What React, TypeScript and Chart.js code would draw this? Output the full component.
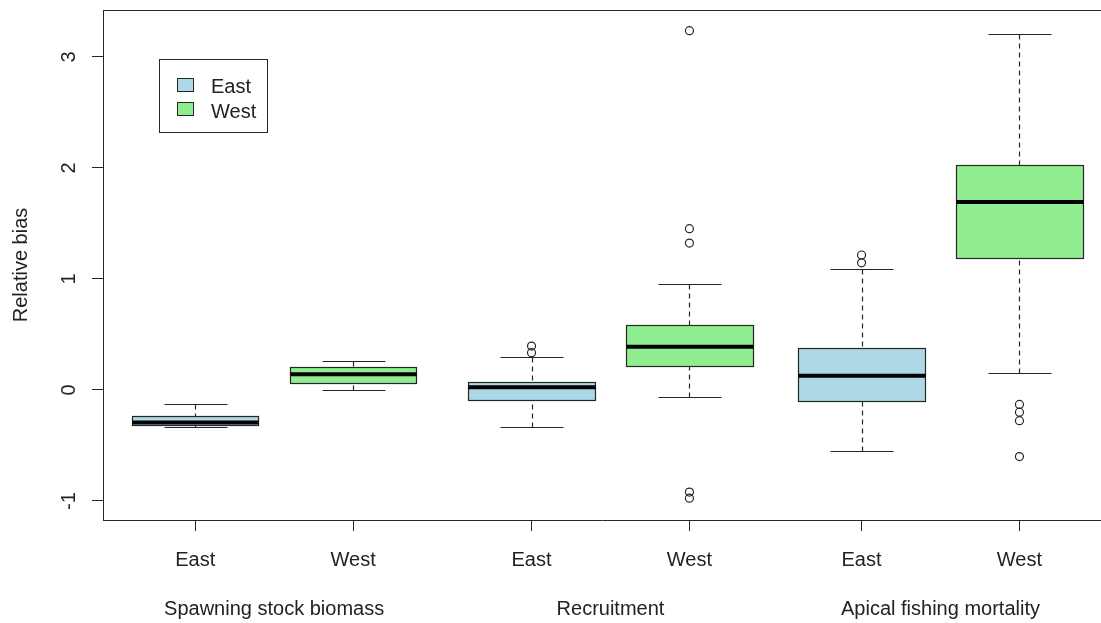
import React, { useEffect, useRef } from "react";
import { Chart, registerables } from "chart.js";

Chart.register(...registerables);

// ---- data ----
const positions = [1, 2, 3.13, 4.13, 5.22, 6.22];
const tickLabels = ["East", "West", "East", "West", "East", "West"];
const regions = ["East", "West", "East", "West", "East", "West"];
const groupLabels = ["Spawning stock biomass", "Recruitment", "Apical fishing mortality"];
const whiskerLow = [-0.333, -0.003, -0.336, -0.06, -0.55, 0.15];
const q1 = [-0.318, 0.06, -0.093, 0.219, -0.103, 1.185];
const median = [-0.293, 0.141, 0.024, 0.39, 0.129, 1.694];
const q3 = [-0.232, 0.204, 0.075, 0.586, 0.378, 2.028];
const whiskerHigh = [-0.126, 0.264, 0.3, 0.955, 1.094, 3.206];
const outliers: number[][] = [
  [],
  [],
  [0.396, 0.336],
  [3.237, 1.453, 1.324, -0.92, -0.975],
  [1.216, 1.146],
  [-0.13, -0.2, -0.276, -0.6],
];
const yTicks = [-1, 0, 1, 2, 3];
const yTitle = "Relative bias";
const legendLabels = ["East", "West"];

const colorOf: Record<string, string> = { East: "#ADD8E6", West: "#90EE90" };
const boxWidth = 0.8;
const FONT = '20px "Liberation Sans", Arial, Helvetica, sans-serif';
const TEXT = "#222";
const LINE = "#262626";

const boxPlugin = {
  id: "rbox",
  beforeDatasetsDraw(chart: any) {
    const { ctx, scales } = chart;
    const x = scales.x;
    const y = scales.y;
    ctx.save();
    positions.forEach((p, i) => {
      const cx = Math.round(x.getPixelForValue(p)) + 0.5;
      const left = Math.round(x.getPixelForValue(p - boxWidth / 2)) + 0.5;
      const right = Math.round(x.getPixelForValue(p + boxWidth / 2)) + 0.5;
      const capL = Math.round(x.getPixelForValue(p - boxWidth / 4)) + 0.5;
      const capR = Math.round(x.getPixelForValue(p + boxWidth / 4)) + 0.5;
      const yLo = Math.round(y.getPixelForValue(whiskerLow[i])) + 0.5;
      const yQ1 = Math.round(y.getPixelForValue(q1[i])) + 0.5;
      const yMed = y.getPixelForValue(median[i]);
      const yQ3 = Math.round(y.getPixelForValue(q3[i])) + 0.5;
      const yHi = Math.round(y.getPixelForValue(whiskerHigh[i])) + 0.5;

      ctx.strokeStyle = LINE;
      ctx.lineWidth = 1.2;
      // dashed whiskers
      ctx.setLineDash([5, 4]);
      ctx.beginPath();
      ctx.moveTo(cx, yHi);
      ctx.lineTo(cx, yQ3);
      ctx.moveTo(cx, yLo);
      ctx.lineTo(cx, yQ1);
      ctx.stroke();
      ctx.setLineDash([]);
      // caps
      ctx.beginPath();
      ctx.moveTo(capL, yHi);
      ctx.lineTo(capR, yHi);
      ctx.moveTo(capL, yLo);
      ctx.lineTo(capR, yLo);
      ctx.stroke();
      // box
      ctx.fillStyle = colorOf[regions[i]];
      ctx.fillRect(left, yQ3, right - left, yQ1 - yQ3);
      ctx.strokeRect(left, yQ3, right - left, yQ1 - yQ3);
      // median
      ctx.strokeStyle = "#000";
      ctx.lineWidth = 4;
      ctx.beginPath();
      ctx.moveTo(left, yMed);
      ctx.lineTo(right, yMed);
      ctx.stroke();
    });
    ctx.restore();
  },
  afterDraw(chart: any) {
    const { ctx, chartArea, scales } = chart;
    const x = scales.x;
    const y = scales.y;
    ctx.save();
    // top frame line
    ctx.strokeStyle = LINE;
    ctx.lineWidth = 1;
    ctx.beginPath();
    ctx.moveTo(chartArea.left, chartArea.top + 0.5);
    ctx.lineTo(chartArea.right, chartArea.top + 0.5);
    ctx.stroke();

    ctx.fillStyle = TEXT;
    ctx.font = FONT;
    // y tick labels (rotated)
    ctx.textAlign = "center";
    ctx.textBaseline = "alphabetic";
    yTicks.forEach((v) => {
      const py = y.getPixelForValue(v);
      ctx.save();
      ctx.translate(75, py);
      ctx.rotate(-Math.PI / 2);
      ctx.fillText(String(v), 0, 0);
      ctx.restore();
    });
    // y title
    ctx.save();
    ctx.translate(26.5, (chartArea.top + chartArea.bottom) / 2);
    ctx.rotate(-Math.PI / 2);
    ctx.fillText(yTitle, 0, 0);
    ctx.restore();
    // x tick labels
    positions.forEach((p, i) => {
      ctx.fillText(tickLabels[i], x.getPixelForValue(p), 566);
    });
    // group labels
    groupLabels.forEach((g, k) => {
      const mid = (positions[2 * k] + positions[2 * k + 1]) / 2;
      ctx.fillText(g, x.getPixelForValue(mid), 615);
    });
    // legend
    ctx.lineWidth = 1;
    ctx.strokeStyle = LINE;
    ctx.fillStyle = "#fff";
    ctx.fillRect(159.5, 59.5, 108, 73);
    ctx.strokeRect(159.5, 59.5, 108, 73);
    legendLabels.forEach((lab, k) => {
      const sy = 77.5 + k * 24.7;
      ctx.fillStyle = colorOf[lab];
      ctx.fillRect(177.5, Math.round(sy) + 0.5, 16, 13);
      ctx.strokeRect(177.5, Math.round(sy) + 0.5, 16, 13);
      ctx.fillStyle = TEXT;
      ctx.textAlign = "left";
      ctx.fillText(lab, 211, 92.5 + k * 25);
    });
    ctx.restore();
  },
};

export default function App() {
  const ref = useRef<HTMLCanvasElement | null>(null);
  useEffect(() => {
    if (!ref.current) return;
    const pts = outliers.flatMap((arr, i) => arr.map((v) => ({ x: positions[i], y: v })));
    const chart = new Chart(ref.current, {
      type: "scatter",
      data: {
        datasets: [
          {
            data: pts,
            pointRadius: 4,
            pointHoverRadius: 4,
            pointBorderWidth: 1.2,
            pointBorderColor: LINE,
            pointBackgroundColor: "rgba(0,0,0,0)",
            showLine: false,
          } as any,
        ],
      },
      options: {
        animation: false,
        responsive: false,
        devicePixelRatio: 1,
        layout: { autoPadding: false, padding: { top: 10, left: 0, right: 0, bottom: 0 } },
        plugins: { legend: { display: false }, tooltip: { enabled: false } },
        events: [],
        scales: {
          x: {
            type: "linear",
            min: 0.4161,
            max: 6.7365,
            afterBuildTicks: (s: any) => {
              s.ticks = positions.map((v) => ({ value: v }));
            },
            afterFit: (s: any) => {
              s.height = 103;
            },
            ticks: { display: false },
            grid: { drawOnChartArea: false, drawTicks: true, tickLength: 11, color: LINE, lineWidth: 1 },
            border: { display: true, color: LINE, width: 1 },
          },
          y: {
            type: "linear",
            min: -1.1712,
            max: 3.4234,
            afterBuildTicks: (s: any) => {
              s.ticks = yTicks.map((v) => ({ value: v }));
            },
            afterFit: (s: any) => {
              s.width = 103;
            },
            ticks: { display: false },
            grid: { drawOnChartArea: false, drawTicks: true, tickLength: 11, color: LINE, lineWidth: 1 },
            border: { display: true, color: LINE, width: 1 },
          },
        },
      } as any,
      plugins: [boxPlugin],
    });
    return () => chart.destroy();
  }, []);
  return (
    <canvas
      ref={ref}
      width={1101}
      height={623}
      style={{ position: "absolute", left: 0, top: 0, display: "block" }}
    />
  );
}
